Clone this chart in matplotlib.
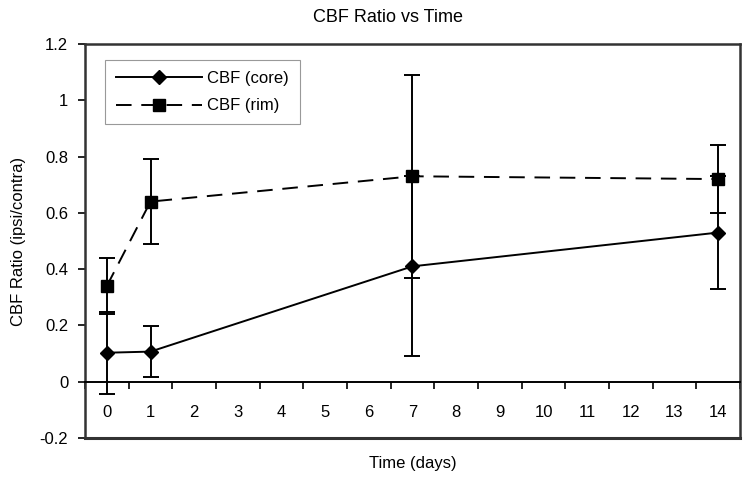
import numpy as np
import matplotlib.pyplot as plt

plt.rcParams['font.family'] = ['Liberation Sans', 'DejaVu Sans']

# categories on the x axis (Excel-style category axis, 0..14 days)
days = list(range(15))
x_days = [0, 1, 7, 14]

core = [0.103, 0.107, 0.41, 0.53]
core_err = [0.145, 0.09, 0.32, 0.20]
rim = [0.34, 0.64, 0.73, 0.72]
rim_err = [0.10, 0.15, 0.36, 0.12]

fig = plt.figure(figsize=(7.51, 4.79), dpi=100)
ax = fig.add_axes([85 / 751, 41 / 479, 655 / 751, 394 / 479])

dash = (0, (8, 5))
ax.errorbar(x_days, core, yerr=core_err, color='black', lw=1.4, ls='-',
            marker='D', ms=7, capsize=6, elinewidth=1.4, capthick=1.4, zorder=3)
ax.errorbar(x_days, rim, yerr=rim_err, color='black', lw=1.4, ls=dash,
            marker='s', ms=8, capsize=6, elinewidth=1.4, capthick=1.4, zorder=3)
# legend handles without error bars
h1, = ax.plot([], [], color='black', lw=1.4, ls='-', marker='D', ms=7, label='CBF (core)')
h2, = ax.plot([], [], color='black', lw=1.4, ls=dash, marker='s', ms=8, label='CBF (rim)')

ax.set_xlim(-0.5, 14.5)
ax.set_ylim(-0.2, 1.2)

# x axis crosses at y = 0, ticks between categories
ax.spines['bottom'].set_position(('data', 0))
ax.spines['bottom'].set_linewidth(1.4)
ax.set_xticks(days)
ax.set_xticklabels([str(d) for d in days])
ax.set_xticks(np.arange(-0.5, 15, 1), minor=True)
ax.tick_params(axis='x', which='major', length=0, pad=17, labelsize=12)
ax.tick_params(axis='x', which='minor', length=5, width=1.2, direction='out')

yt = np.round(np.arange(-0.2, 1.21, 0.2), 1)
ax.set_yticks(yt)
ax.set_yticklabels(['-0.2', '0', '0.2', '0.4', '0.6', '0.8', '1', '1.2'])
ax.tick_params(axis='y', length=5, width=1.2, direction='out', pad=7, labelsize=12)

for s in ['left', 'right', 'top']:
    ax.spines[s].set_linewidth(1.8)
    ax.spines[s].set_color('#333333')
# bottom frame line at -0.2
ax.plot([0, 1], [0, 0], transform=ax.transAxes, color='#333333', lw=2.2, clip_on=False)

ax.set_xlabel('Time (days)', fontsize=12)
ax.set_ylabel('CBF Ratio (ipsi/contra)', fontsize=12, labelpad=10)
ax.xaxis.set_label_coords(0.5, -0.045)
fig.text(388 / 751, 1 - 17 / 479, 'CBF Ratio vs Time', ha='center', va='center', fontsize=13)

leg = ax.legend(handles=[h1, h2], loc='upper left', bbox_to_anchor=(0.0305, 0.959),
                borderaxespad=0, fontsize=12, handlelength=5.2, fancybox=False,
                framealpha=1, edgecolor='#999999', borderpad=0.65, labelspacing=0.75,
                handletextpad=0.3)
leg.get_frame().set_linewidth(0.8)

fig.savefig('out.png', dpi=100)
